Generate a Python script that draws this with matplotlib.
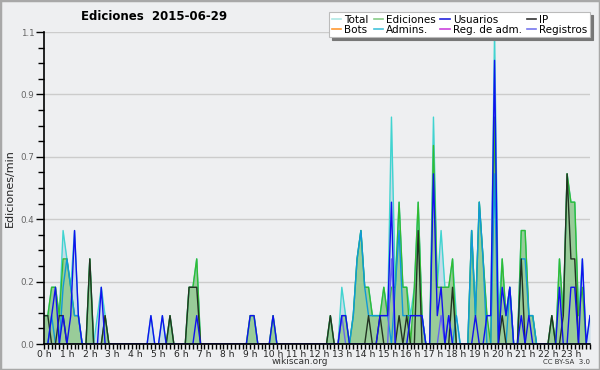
import matplotlib
matplotlib.use("Agg")
import matplotlib.pyplot as plt
from matplotlib.lines import Line2D
from matplotlib.patches import Rectangle
import numpy as np

# edits per 10-minute bin, 144 bins (00:00 .. 23:50)
total = [
    1, 1, 2, 2, 1, 4, 3, 2, 4, 1, 0, 0,     # 0-2 h
    3, 0, 1, 2, 1, 0, 0, 0, 0, 0, 0, 0,     # 2-4 h
    0, 0, 0, 0, 1, 0, 0, 1, 0, 1, 0, 0,     # 4-6 h
    0, 0, 2, 2, 3, 0, 0, 0, 0, 0, 0, 0,     # 6-8 h
    0, 0, 0, 0, 0, 0, 1, 1, 0, 0, 0, 0,     # 8-10 h
    1, 0, 0, 0, 0, 0, 0, 0, 0, 0, 0, 0,     # 10-12 h
    0, 0, 0, 1, 0, 0, 2, 1, 0, 1, 3, 4,     # 12-14 h
    2, 2, 1, 1, 1, 2, 1, 8, 2, 5, 2, 2,     # 14-16 h
    1, 2, 5, 1, 0, 0, 8, 2, 4, 2, 2, 3,     # 16-18 h
    1, 0, 0, 0, 4, 1, 5, 3, 1, 1, 11, 1,    # 18-20 h
    3, 1, 2, 0, 0, 4, 4, 1, 1, 0, 0, 0,     # 20-22 h
    0, 1, 0, 3, 1, 6, 5, 5, 1, 3, 0, 1,     # 22-24 h
]
ediciones = [
    1, 1, 2, 2, 1, 3, 3, 2, 1, 1, 0, 0,
    3, 0, 0, 0, 1, 0, 0, 0, 0, 0, 0, 0,
    0, 0, 0, 0, 0, 0, 0, 0, 0, 1, 0, 0,
    0, 0, 2, 2, 3, 0, 0, 0, 0, 0, 0, 0,
    0, 0, 0, 0, 0, 0, 1, 1, 0, 0, 0, 0,
    1, 0, 0, 0, 0, 0, 0, 0, 0, 0, 0, 0,
    0, 0, 0, 1, 0, 0, 1, 1, 0, 1, 3, 4,
    2, 2, 1, 1, 1, 2, 1, 2, 2, 5, 2, 2,
    0, 2, 5, 1, 0, 0, 7, 2, 2, 2, 2, 3,
    0, 0, 0, 0, 4, 1, 5, 3, 1, 0, 8, 0,
    3, 1, 2, 0, 0, 4, 4, 1, 1, 0, 0, 0,
    0, 1, 0, 3, 1, 6, 5, 5, 1, 2, 0, 0,
]
usuarios = [
    0, 0, 1, 2, 0, 1, 0, 1, 4, 1, 0, 0,
    0, 0, 0, 2, 0, 0, 0, 0, 0, 0, 0, 0,
    0, 0, 0, 0, 1, 0, 0, 1, 0, 0, 0, 0,
    0, 0, 0, 0, 1, 0, 0, 0, 0, 0, 0, 0,
    0, 0, 0, 0, 0, 0, 1, 1, 0, 0, 0, 0,
    1, 0, 0, 0, 0, 0, 0, 0, 0, 0, 0, 0,
    0, 0, 0, 0, 0, 0, 1, 1, 0, 0, 0, 0,
    0, 0, 0, 0, 1, 1, 1, 5, 0, 0, 0, 0,
    1, 1, 1, 1, 0, 0, 6, 1, 2, 0, 1, 0,
    0, 0, 0, 0, 0, 1, 0, 0, 1, 1, 10, 0,
    2, 1, 2, 0, 0, 1, 0, 1, 0, 0, 0, 0,
    0, 0, 0, 2, 0, 0, 2, 2, 0, 3, 0, 1,
]
ip = [
    1, 1, 0, 0, 1, 1, 0, 0, 0, 0, 0, 0,
    3, 0, 0, 0, 1, 0, 0, 0, 0, 0, 0, 0,
    0, 0, 0, 0, 0, 0, 0, 0, 0, 1, 0, 0,
    0, 0, 2, 2, 2, 0, 0, 0, 0, 0, 0, 0,
    0, 0, 0, 0, 0, 0, 0, 0, 0, 0, 0, 0,
    0, 0, 0, 0, 0, 0, 0, 0, 0, 0, 0, 0,
    0, 0, 0, 1, 0, 0, 0, 0, 0, 0, 0, 0,
    0, 1, 0, 0, 1, 0, 0, 0, 0, 1, 0, 1,
    0, 0, 4, 0, 0, 0, 0, 0, 0, 0, 0, 2,
    0, 0, 0, 0, 0, 0, 0, 0, 0, 0, 0, 0,
    1, 0, 0, 0, 0, 3, 0, 0, 0, 0, 0, 0,
    0, 1, 0, 0, 1, 6, 3, 3, 0, 0, 0, 0,
]
admins = [
    0, 0, 1, 0, 0, 2, 3, 2, 1, 1, 0, 0,
    0, 0, 0, 0, 0, 0, 0, 0, 0, 0, 0, 0,
    0, 0, 0, 0, 0, 0, 0, 0, 0, 0, 0, 0,
    0, 0, 0, 0, 0, 0, 0, 0, 0, 0, 0, 0,
    0, 0, 0, 0, 0, 0, 0, 0, 0, 0, 0, 0,
    0, 0, 0, 0, 0, 0, 0, 0, 0, 0, 0, 0,
    0, 0, 0, 0, 0, 0, 0, 0, 0, 1, 3, 4,
    2, 1, 1, 1, 1, 1, 1, 0, 2, 4, 1, 1,
    1, 1, 1, 1, 0, 0, 0, 0, 0, 0, 0, 0,
    1, 0, 0, 0, 4, 1, 5, 3, 0, 0, 6, 0,
    0, 0, 2, 0, 0, 3, 3, 1, 1, 0, 0, 0,
    0, 0, 0, 0, 0, 0, 0, 0, 0, 0, 0, 0,
]
registros = [
    0, 0, 0, 0, 0, 0, 0, 0, 0, 0, 0, 0,
    0, 0, 0, 0, 0, 0, 0, 0, 0, 0, 0, 0,
    0, 0, 0, 0, 0, 0, 0, 0, 0, 0, 0, 0,
    0, 0, 0, 0, 0, 0, 0, 0, 0, 0, 0, 0,
    0, 0, 0, 0, 0, 0, 0, 0, 0, 0, 0, 0,
    0, 0, 0, 0, 0, 0, 0, 0, 0, 0, 0, 0,
    0, 0, 0, 0, 0, 0, 1, 0, 0, 0, 0, 0,
    0, 0, 0, 0, 0, 0, 0, 3, 0, 0, 0, 0,
    0, 0, 0, 0, 0, 0, 0, 0, 1, 0, 1, 0,
    0, 0, 0, 0, 0, 0, 0, 0, 0, 0, 0, 0,
    0, 0, 0, 0, 0, 0, 0, 0, 0, 0, 0, 0,
    0, 0, 0, 0, 0, 0, 0, 0, 0, 0, 0, 0,
]

ytick_vals = [0, 0.22, 0.44, 0.66, 0.88, 1.1]
ytick_labels = ['0.0', '0.2', '0.4', '0.7', '0.9', '1.1']
hour_labels = ['%d h' % h for h in range(24)]

legend_names = ['Total', 'Bots', 'Ediciones', 'Admins.', 'Usuarios', 'Reg. de adm.', 'IP', 'Registros']
legend_colors = ['#aee8e4', '#ff9933', '#88cc88', '#44c4dc', '#2222dd', '#cc44dd', '#333333', '#7777ee']

bg = '#eeeff1'
plt.rcParams['font.family'] = ['DejaVu Sans']

fig = plt.figure(figsize=(6, 3.7), dpi=100, facecolor=bg)
fig.patches.append(Rectangle((0, 0), 1, 1, transform=fig.transFigure, fill=False,
                             edgecolor='#a8a8a8', linewidth=2.5))
ax = fig.add_axes([44 / 600, 26 / 370, 546 / 600, 312 / 370])
ax.set_facecolor(bg)

x = np.arange(len(total)) / 6.0
per_min = lambda s: np.array(s) / 10.0

# fills
ax.fill_between(x, 0, per_min(total), color='#c6dce8', lw=0, zorder=1)
ax.fill_between(x, 0, per_min(ediciones), color='#99cc99', lw=0, zorder=2)
# lines
ax.plot(x, per_min(total), color='#40d4d0', lw=1.0, zorder=3)
ax.plot(x, per_min(ediciones), color='#33bb33', lw=1.0, zorder=4)
ax.plot(x, per_min(admins), color='#1199d8', lw=1.0, zorder=5)
ax.plot(x, per_min(ip), color='#223322', lw=1.0, zorder=6)
ax.plot(x, per_min(registros), color='#6666ee', lw=1.0, zorder=7)
ax.plot(x, per_min(usuarios), color='#1111ee', lw=1.0, zorder=8)

ax.set_xlim(0, x[-1])
ax.set_ylim(0, 1.1)
ax.set_yticks(ytick_vals)
ax.set_yticklabels(ytick_labels)
ax.set_yticks(np.arange(0, 1.1, 0.055), minor=True)
ax.set_xticks(range(24))
ax.set_xticklabels(hour_labels)
ax.set_xticks(x, minor=True)
ax.grid(axis='y', color='#cccccc', lw=1.0, zorder=0)
ax.set_axisbelow(True)

for s in ['top', 'right']:
    ax.spines[s].set_visible(False)
for s in ['left', 'bottom']:
    ax.spines[s].set_linewidth(1.2)
    ax.spines[s].set_zorder(10)

ax.tick_params(axis='x', which='both', direction='out', length=3.5, width=1, pad=0.5,
               labelsize=6.6, labelcolor='#222222')
ax.tick_params(axis='y', which='major', direction='out', length=6, width=1, pad=1,
               labelsize=6.3, labelcolor='#666666')
ax.tick_params(axis='y', which='minor', direction='out', length=4, width=1)

fig.text(10 / 600, 1 - 188 / 370, 'Ediciones/min', rotation=90, ha='center', va='center',
         fontsize=8, color='#222222')

fig.text(154 / 600, 1 - 16 / 370, 'Ediciones  2015-06-29', ha='center', va='center',
         fontsize=8.5, fontweight='bold')

handles = [Line2D([], [], color=c, lw=1.2) for c in legend_colors]
leg = fig.legend(handles, legend_names, ncol=4, loc='upper right',
                 bbox_to_anchor=(590 / 600, 1 - 12 / 370), fontsize=7.5,
                 frameon=True, fancybox=False, shadow={'color': '#777777', 'alpha': 1},
                 handlelength=0.9, handletextpad=0.3, columnspacing=0.45,
                 labelspacing=0.0, borderpad=0.25, borderaxespad=0)
leg.get_frame().set_edgecolor('#bbbbbb')
leg.get_frame().set_facecolor('white')
leg.get_frame().set_linewidth(0.8)

fig.text(300 / 600, 1 - 362 / 370, 'wikiscan.org', ha='center', va='center',
         fontsize=6.5, color='#333333')
fig.text(590 / 600, 1 - 362 / 370, 'CC BY-SA  3.0', ha='right', va='center',
         fontsize=5, color='#333333')

fig.savefig('out.png', dpi=100, facecolor=bg)
